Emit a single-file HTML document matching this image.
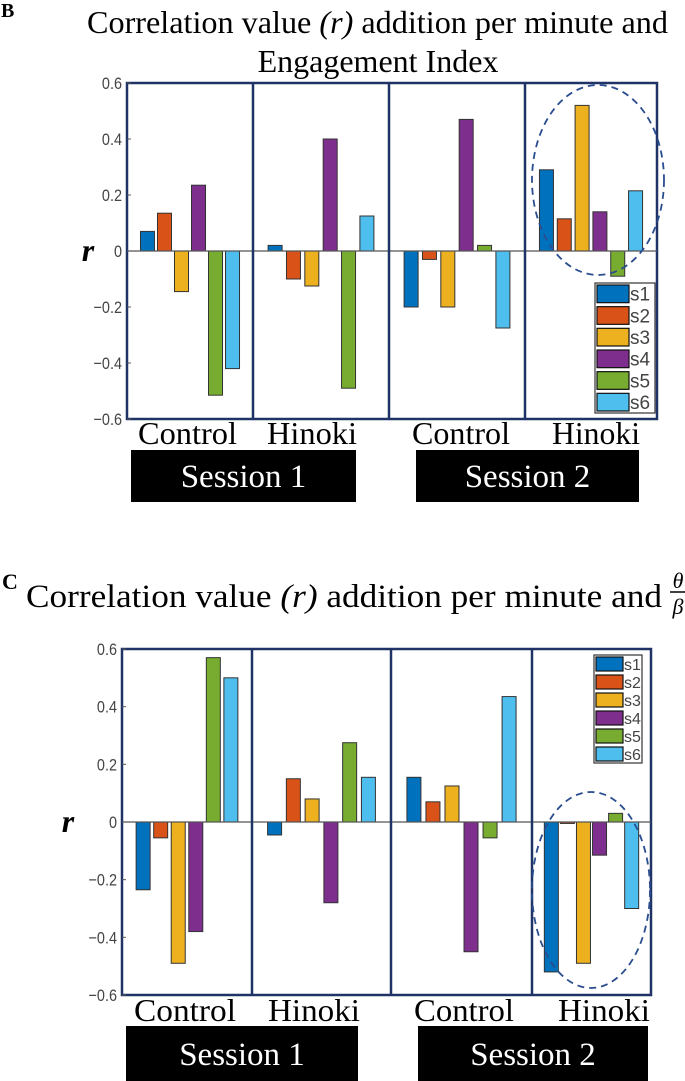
<!DOCTYPE html>
<html><head><meta charset="utf-8"><style>
body{margin:0;background:#fff;width:685px;height:1081px;overflow:hidden}
svg{position:absolute;left:0;top:0}
.t{font-family:"Liberation Serif",serif}
.k{font-family:"Liberation Sans",sans-serif;fill:#444}
</style></head><body>
<svg id="s" width="685" height="1081"></svg>
<script>
const seriesNames=["s1","s2","s3","s4","s5","s6"];
const colors=["#0072BD","#D95319","#EDB120","#7E2F8E","#77AC30","#4DBEEE"];
const groups=["Control","Hinoki","Control","Hinoki"];
const ticks=[0.6,0.4,0.2,0,-0.2,-0.4,-0.6];
const tickLabels=["0.6","0.4","0.2","0","\u22120.2","\u22120.4","\u22120.6"];
const valuesB=[[0.07,0.135,-0.145,0.235,-0.515,-0.42],[0.02,-0.1,-0.125,0.40,-0.49,0.125],[-0.2,-0.03,-0.2,0.47,0.02,-0.275],[0.29,0.115,0.52,0.14,-0.09,0.215]];
const valuesC=[[-0.235,-0.055,-0.49,-0.38,0.57,0.50],[-0.045,0.15,0.08,-0.28,0.275,0.155],[0.155,0.07,0.125,-0.45,-0.055,0.435],[-0.52,-0.005,-0.49,-0.115,0.03,-0.30]];
const S=document.getElementById('s');const NS="http://www.w3.org/2000/svg";
function el(t,a,txt){const e=document.createElementNS(NS,t);for(const k in a)e.setAttribute(k,a[k]);if(txt!==undefined)e.textContent=txt;S.appendChild(e);return e;}
function chart(cfg,vals,id){
 const y=v=>cfg.top+(0.6-v)/1.2*(cfg.bot-cfg.top);
 const edges=[cfg.left,...cfg.div,cfg.right];
 let r=el('rect',{x:cfg.left,y:cfg.top,width:cfg.right-cfg.left,height:cfg.bot-cfg.top,fill:'#fff',stroke:'#1f3366','stroke-width':2.5});
 
 ticks.forEach((t,i)=>{let tx=el('text',{x:(cfg.left-5)/0.85,y:y(t)+6,'text-anchor':'end','font-size':17,class:'k',transform:`scale(0.85,1)`},tickLabels[i]);
  
  let l=el('line',{x1:cfg.left,x2:cfg.left+4,y1:y(t),y2:y(t),stroke:'#555'});});
 vals.forEach((g,gi)=>{const a=edges[gi],b=edges[gi+1],w=b-a,step=w*0.135,bw=14,c=(a+b)/2;
  g.forEach((v,i)=>{const cx=c+(i-2.5)*step;const y0=y(0),y1=y(v);
   let rr=el('rect',{x:cx-bw/2,y:Math.min(y0,y1),width:bw,height:Math.abs(y1-y0),fill:colors[i],stroke:'#333','stroke-width':1});
   });
 });
 let z=el('line',{x1:cfg.left,x2:cfg.right,y1:y(0),y2:y(0),stroke:'#555','stroke-width':1.2});
 cfg.div.forEach(d=>{let l=el('line',{x1:d,x2:d,y1:cfg.top,y2:cfg.bot,stroke:'#1f3366','stroke-width':2.5});});
 let ry=el('text',{x:cfg.rx,y:y(0)+10,'font-size':32,'font-weight':'bold','font-style':'italic',class:'t','text-anchor':'middle'},'r');
 const L=cfg.leg;let lb=el('rect',{x:L.x,y:L.y,width:L.w,height:L.h,fill:'#fff',stroke:'#333','stroke-width':1.2});
 const rh=L.h/6;seriesNames.forEach((n,i)=>{let s=el('rect',{x:L.x+2,y:L.y+2+i*rh,width:L.sw,height:rh-4,fill:colors[i],stroke:'#111','stroke-width':1.2});
  let t=el('text',{x:L.x+L.sw+3,y:L.y+rh*(i+0.5)+L.fs*0.36,'font-size':L.fs,class:'k',fill:'#222'},n);});
 let e=el('ellipse',{cx:cfg.ell[0],cy:cfg.ell[1],rx:cfg.ell[2],ry:cfg.ell[3],fill:'none',stroke:'#2a4d8f','stroke-width':1.8,'stroke-dasharray':'7,5'});
 groups.forEach((g,i)=>{const [a,b]=cfg.lx[i];let t=el('text',{x:a,y:cfg.ly,'font-size':32,class:'t',textLength:b-a,lengthAdjust:'spacingAndGlyphs'},g);});
 cfg.sb.forEach(([s,a,b])=>{let r=el('rect',{x:a,y:cfg.sy,width:b-a,height:cfg.sh,fill:'#000'});
  let t=el('text',{x:(a+b)/2,y:cfg.sy+cfg.st,'font-size':33,class:'t',fill:'#fff','text-anchor':'middle'},s);});
}
let t;
t=el('text',{x:1,y:17,'font-size':20,'font-weight':'bold',class:'t'},'B');
t=el('text',{x:87,y:33,'font-size':32,class:'t',textLength:581,lengthAdjust:'spacingAndGlyphs'});t.innerHTML='Correlation value <tspan font-style="italic">(r)</tspan> addition per minute and';
t=el('text',{x:378,y:72,'font-size':32,class:'t','text-anchor':'middle'},'Engagement Index');
chart({left:127,right:657,top:83,bot:419,div:[253,389,525],rx:88,leg:{x:595,y:283,w:60,h:130,sw:32,fs:19},ell:[598,180,66,95],lx:[[138,237],[267,357],[412,510],[552,640]],ly:444,sy:450,sh:52,st:37,sb:[["Session 1",131,356],["Session 2",416,639]]},valuesB,'chart-b');
t=el('text',{x:2,y:589,'font-size':22,'font-weight':'bold',class:'t'},'C');
t=el('text',{x:26,y:607,'font-size':33,class:'t',textLength:636,lengthAdjust:'spacingAndGlyphs'});t.innerHTML='Correlation value <tspan font-style="italic">(r)</tspan> addition per minute and';
t=el('text',{x:678,y:588,'font-size':22,'font-style':'italic',class:'t','text-anchor':'middle'},'θ');
el('line',{x1:670,x2:686,y1:592,y2:592,stroke:'#000','stroke-width':1.5});
t=el('text',{x:678,y:614,'font-size':22,'font-style':'italic',class:'t','text-anchor':'middle'},'β');
chart({left:122,right:651,top:649,bot:995,div:[252,391,532],rx:68,leg:{x:594,y:655,w:48,h:108,sw:27,fs:16},ell:[591,890,59,98],lx:[[134,236],[268,360],[414,514],[558,650]],ly:1021,sy:1026,sh:60,st:39,sb:[["Session 1",126,358],["Session 2",418,648]]},valuesC,'chart-c');
</script>
</body></html>
